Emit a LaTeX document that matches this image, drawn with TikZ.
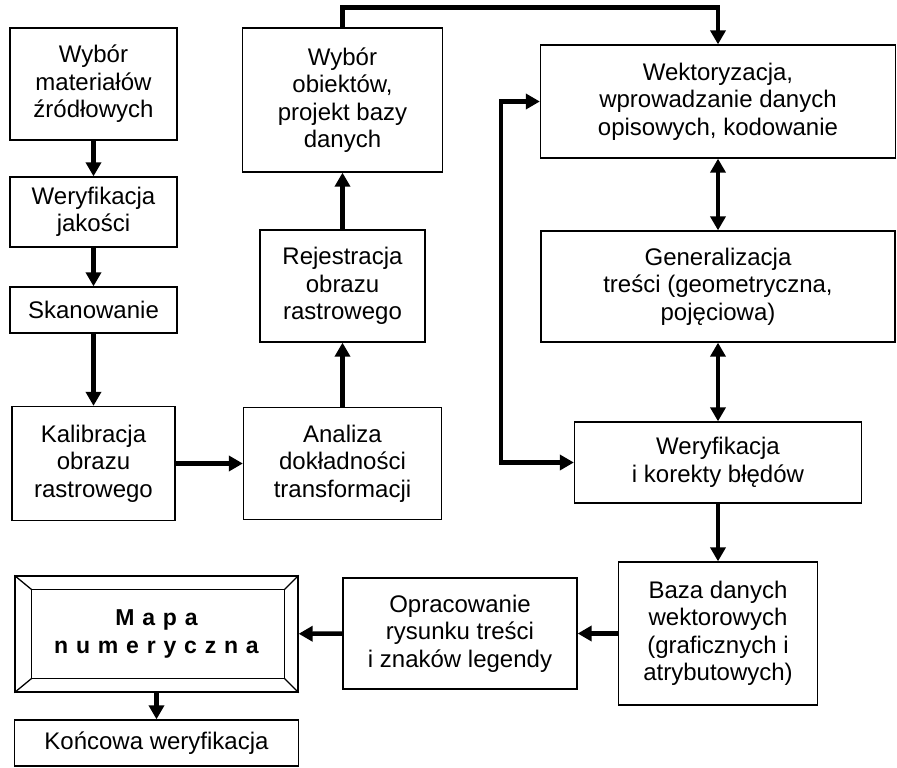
\documentclass[tikz,border=0pt]{standalone}
\usepackage{fontspec}
\setmainfont{Liberation Sans}
\usetikzlibrary{arrows.meta,calc}

\begin{document}
\begin{tikzpicture}[x=1pt,y=-1pt]
\tikzstyle{box}=[rectangle, draw, line width=1.3pt, align=center, inner sep=2pt,
    font=\fontsize{24}{27.5}\selectfont]
\tikzstyle{arr}=[line width=4.5pt, -{Triangle[length=14pt,width=15pt]}]
\tikzstyle{arr2}=[line width=4.5pt, {Triangle[length=14pt,width=15pt]}-{Triangle[length=14pt,width=15pt]}]
\useasboundingbox (0,0) rectangle (897,768);

% left column
\node[box, minimum width=167pt, minimum height=112pt] (wybmat) at (93.5,84) {Wybór\\materiałów\\źródłowych};
\node[box, minimum width=167pt, minimum height=70pt] (werjak) at (93.5,212) {Weryfikacja\\jakości};
\node[box, minimum width=167pt, minimum height=46pt] (skan) at (93.5,310) {Skanowanie};
\node[box, minimum width=163pt, minimum height=114pt] (kalib) at (93.5,463.5) {Kalibracja\\obrazu\\rastrowego};

% middle column
\node[box, minimum width=198pt, minimum height=112pt] (analiza) at (342.5,463.5) {Analiza\\dokładności\\transformacji};
\node[box, minimum width=165pt, minimum height=112pt] (rejestr) at (342.5,286) {Rejestracja\\obrazu\\rastrowego};
\node[box, minimum width=200pt, minimum height=144pt] (wybob) at (342.5,100) {Wybór\\obiektów,\\projekt bazy\\danych};

% right column
\node[box, minimum width=355pt, minimum height=113pt] (wektor) at (718,101.5) {Wektoryzacja,\\wprowadzanie danych\\opisowych, kodowanie};
\node[box, minimum width=354pt, minimum height=111pt] (general) at (718,286.5) {Generalizacja\\treści (geometryczna,\\pojęciowa)};
\node[box, minimum width=287pt, minimum height=81pt] (werkor) at (718,462.5) {Weryfikacja\\i korekty błędów};
\node[box, minimum width=199pt, minimum height=143pt] (baza) at (718,633.5) {Baza danych\\wektorowych\\(graficznych i\\atrybutowych)};

% bottom row
\node[box, minimum width=234pt, minimum height=111pt] (oprac) at (460,633.5) {Opracowanie\\rysunku treści\\i znaków legendy};
\node[box, minimum width=283pt, minimum height=116pt,
    font=\fontsize{23}{28}\selectfont\bfseries\addfontfeature{LetterSpace=34}] (mapa) at (156.5,634) {Mapa\\numeryczna};
\node[box, minimum width=284pt, minimum height=46pt] (koncowa) at (156.5,743) {Końcowa weryfikacja};

% bevelled frame of the map box
\coordinate (mi1) at ($(mapa.north west)+(17,14)$);
\coordinate (mi2) at ($(mapa.north east)+(-14,14)$);
\coordinate (mi3) at ($(mapa.south east)+(-14,-14)$);
\coordinate (mi4) at ($(mapa.south west)+(17,-14)$);
\draw[line width=1.3pt] (mi1) -- (mi2) -- (mi3) -- (mi4) -- cycle;
\draw[line width=1.3pt] (mapa.north west) -- (mi1) (mapa.north east) -- (mi2)
    (mapa.south east) -- (mi3) (mapa.south west) -- (mi4);

% connectors
\draw[arr] (wybmat) -- (werjak);
\draw[arr] (werjak) -- (skan);
\draw[arr] (skan) -- (kalib);
\draw[arr] (kalib) -- (analiza);
\draw[arr] (analiza) -- (rejestr);
\draw[arr] (rejestr) -- (wybob);
\draw[arr] (wybob.north) -- ++(0,-20) -| (wektor.north);
\draw[arr2] (wektor.west) -- ++(-39,0) |- (werkor.west);
\draw[arr2] (wektor) -- (general);
\draw[arr2] (general) -- (werkor);
\draw[arr] (werkor) -- (baza);
\draw[arr] (baza) -- (oprac);
\draw[arr] (oprac) -- (mapa);
\draw[arr] (mapa) -- (koncowa);
\end{tikzpicture}
\end{document}
